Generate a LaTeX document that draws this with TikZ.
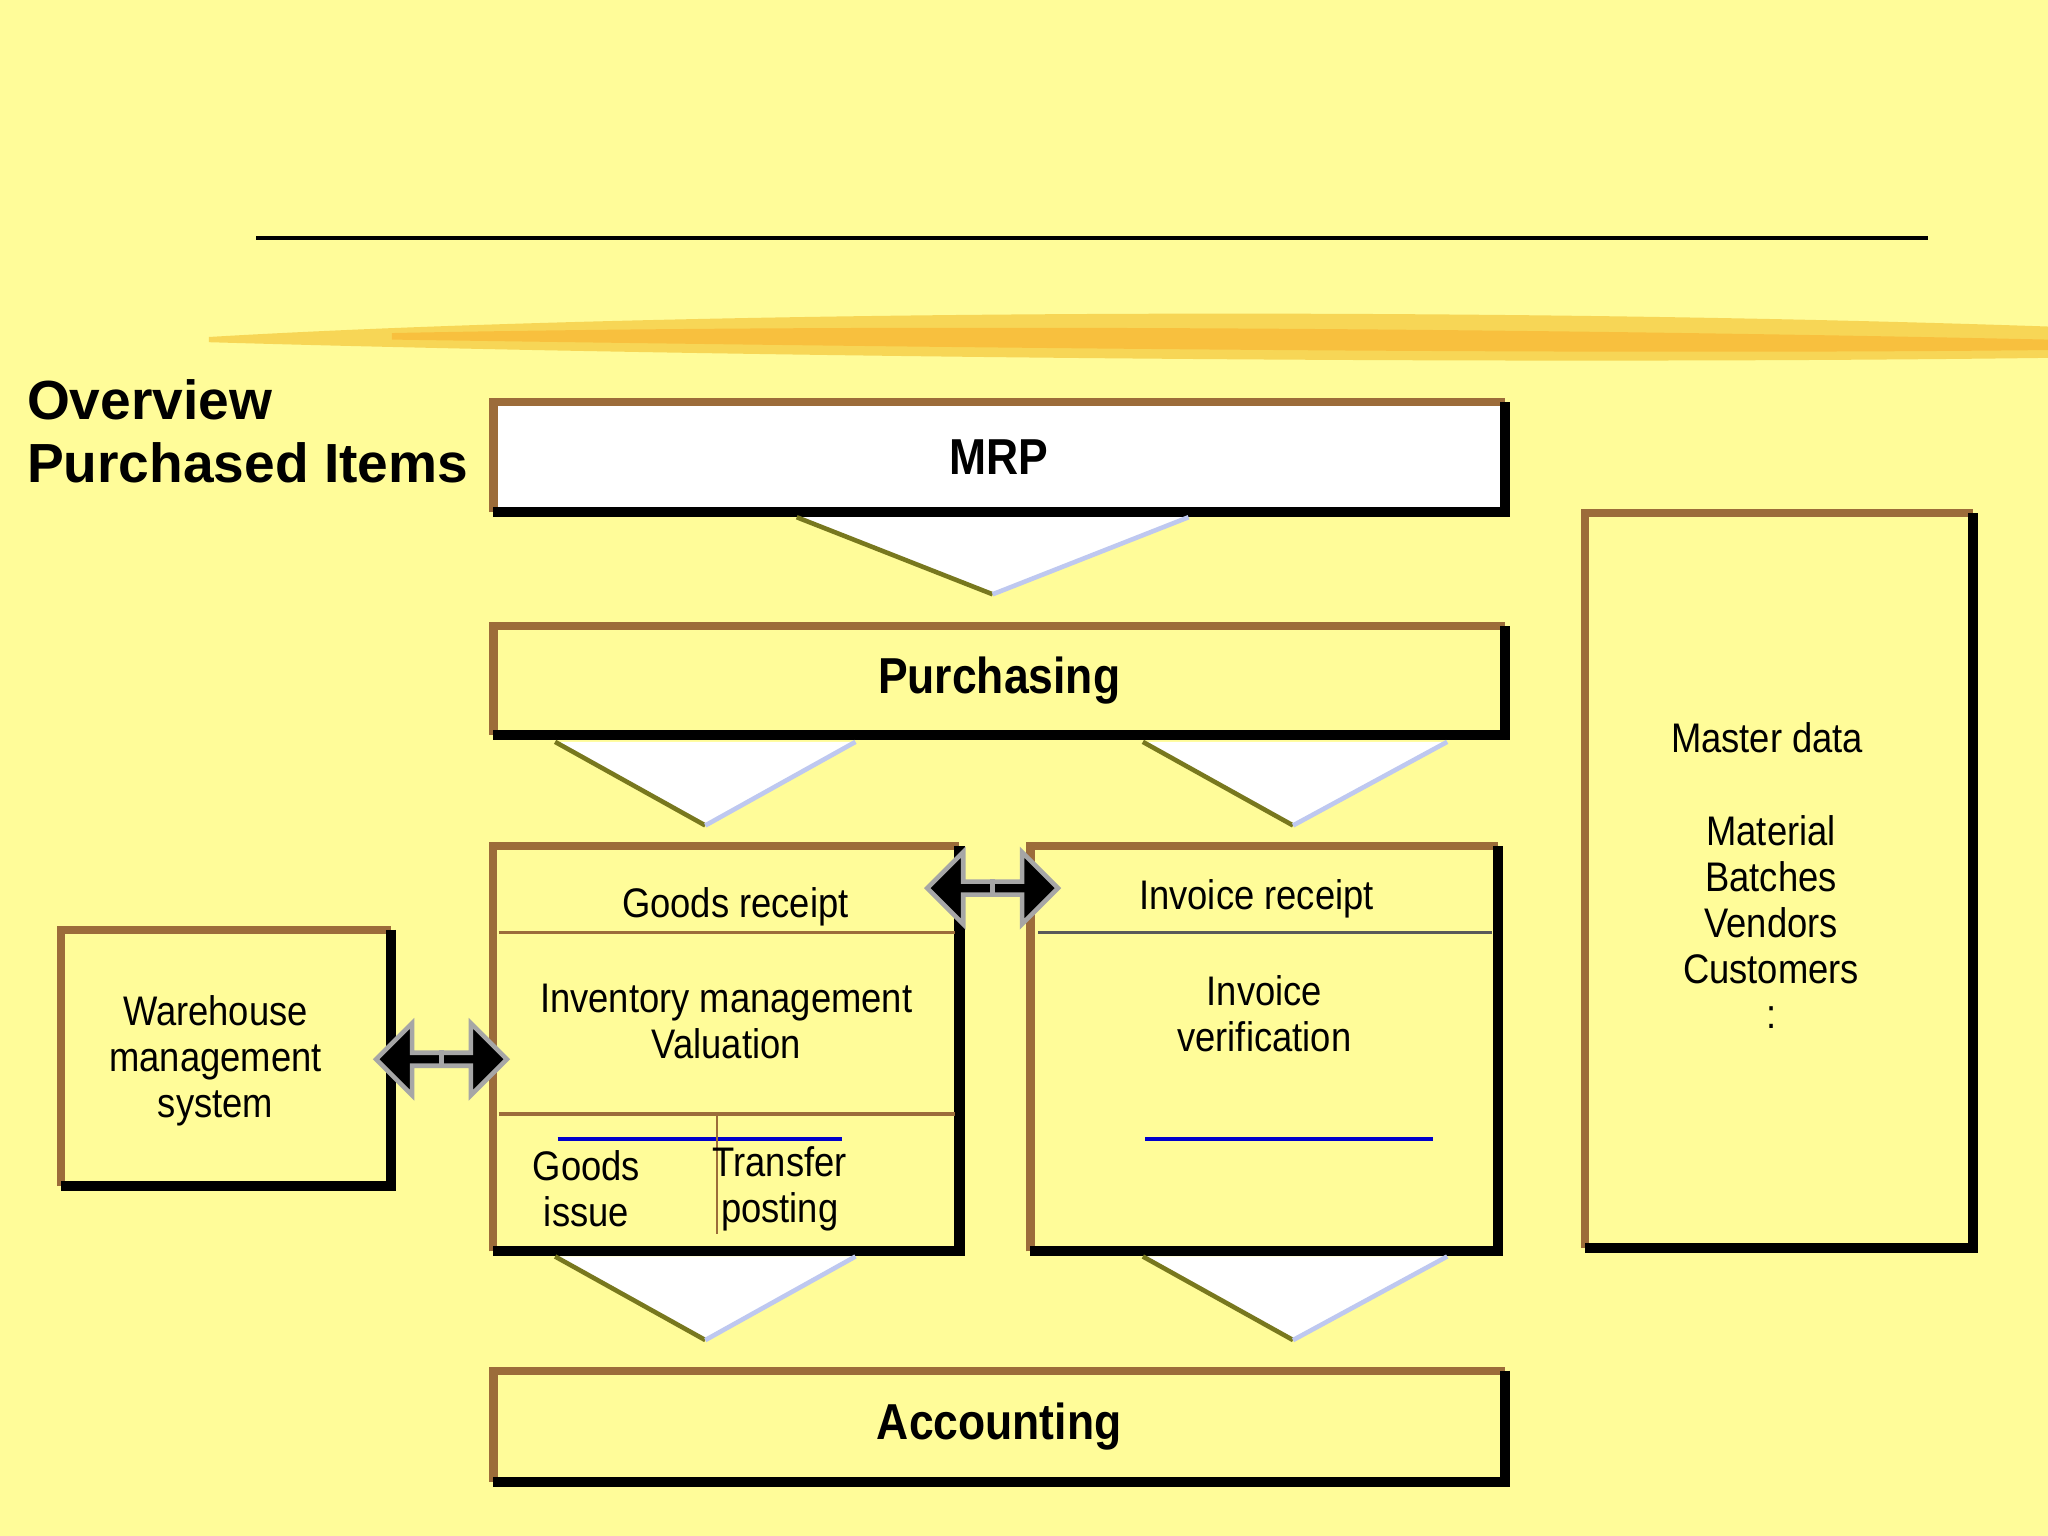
\documentclass[tikz,border=0pt]{standalone}
\usepackage{fontspec}
\setmainfont{Liberation Sans}[FakeStretch=0.88]
\newfontfamily\ttlfont{Liberation Sans}
\usetikzlibrary{positioning, shapes.arrows}
\definecolor{bgyel}{RGB}{255,252,153}
\definecolor{brn}{RGB}{156,108,58}
\definecolor{brush}{RGB}{245,205,70}
\definecolor{olv}{RGB}{120,120,30}
\definecolor{lblue}{RGB}{190,200,240}

\tikzset{
  box/.style={minimum width=#1, inner sep=0pt, outer sep=0pt},
  txt/.style={font=\fontsize{9}{10}\selectfont, align=center},
  head/.style={font=\bfseries\fontsize{11}{13}\selectfont},
  dbl/.style={double arrow, fill=black, draw=gray!70, line width=1pt,
    minimum height=1cm, minimum width=0.55cm, double arrow head extend=0.08cm, inner sep=0pt}
}
% frame: brown top/left, black right/bottom
\newcommand{\frm}[1]{%
  \draw[brn, line width=1.8pt] (#1.south west) -- (#1.north west) -- (#1.north east);
  \draw[black, line width=2.2pt] (#1.north east) -- (#1.south east) -- (#1.south west);}
% funnel between boxes
\newcommand{\fun}[3]{%
  \fill[white] (#1) -- (#2) -- (#3) -- cycle;
  \draw[olv, line width=1pt] (#1) -- (#3);
  \draw[lblue, line width=1pt] (#3) -- (#2);}

\begin{document}
\begin{tikzpicture}[x=0.01cm, y=-0.01cm]
  \fill[bgyel] (0,0) rectangle (1568,1176);
  \useasboundingbox (0,0) rectangle (1568,1176);

  \draw[line width=0.8pt] (196,182) -- (1476,182);
  \fill[brush, opacity=0.8] (160,258) .. controls (500,238) and (1100,234) .. (1568,250)
     -- (1568,274) .. controls (1100,280) and (500,272) .. (160,262) -- cycle;
  \fill[orange!60!brush, opacity=0.4] (300,255) .. controls (700,247) and (1200,252) .. (1568,260)
     -- (1568,268) .. controls (1200,272) and (700,266) .. (300,260) -- cycle;

  \node[anchor=north west, align=left, inner sep=0pt, font=\ttlfont\bfseries\fontsize{12}{13.6}\selectfont] (title) at (20,290)
    {Overview\\Purchased Items};

  % main boxes
  \node[box=7.74cm, fill=white, minimum height=0.84cm, head] (mrp) at (765,350) {MRP};
  \node[box=7.74cm, fill=bgyel, minimum height=0.83cm, head] (purch) at (765,521) {Purchasing};
  \node[box=7.74cm, fill=bgyel, minimum height=0.85cm, head] (acc) at (765,1092) {Accounting};
  \node[box=3.57cm, fill=bgyel, minimum height=3.1cm] (gr) at (556,803) {};
  \node[box=3.58cm, fill=bgyel, minimum height=3.1cm] (inv) at (968,803) {};
  \node[box=2.53cm, fill=bgyel, minimum height=1.96cm] (wms) at (173,810) {};
  \node[box=2.97cm, fill=bgyel, minimum height=5.62cm] (mst) at (1362,674) {};
  \frm{mrp} \frm{purch} \frm{acc} \frm{gr} \frm{inv} \frm{wms} \frm{mst}

  % funnels
  \coordinate (f1a) at (610,396); \coordinate (f1b) at (910,396); \coordinate (f1c) at (760,455);
  \fun{f1a}{f1b}{f1c}
  \coordinate (f2a) at (425,568); \coordinate (f2b) at (655,568); \coordinate (f2c) at (540,632);
  \fun{f2a}{f2b}{f2c}
  \coordinate (f3a) at (875,568); \coordinate (f3b) at (1108,568); \coordinate (f3c) at (990,632);
  \fun{f3a}{f3b}{f3c}
  \coordinate (f4a) at (425,962); \coordinate (f4b) at (655,962); \coordinate (f4c) at (540,1026);
  \fun{f4a}{f4b}{f4c}
  \coordinate (f5a) at (875,962); \coordinate (f5b) at (1108,962); \coordinate (f5c) at (990,1026);
  \fun{f5a}{f5b}{f5c}

  % goods receipt box
  \node[txt] (grt) at (563,694) {Goods receipt};
  \draw[brn, line width=0.8pt] (382,714) -- (731,714);
  \node[txt] (invm) at (556,782) {Inventory management\\Valuation};
  \draw[brn, line width=0.8pt] (382,853) -- (731,853);
  \draw[blue!80!black, line width=0.8pt] (427,872) -- (645,872);
  \draw[brn, line width=0.6pt] (549,853) -- (549,945);
  \node[txt] (gi) at (449,910) {Goods\\issue};
  \node[txt] (tp) at (597,910) {Transfer\\posting};

  % invoice box
  \node[txt] (irt) at (962,688) {Invoice receipt};
  \draw[gray!70!black, line width=0.8pt] (795,714) -- (1142,714);
  \node[txt] (iv) at (968,776) {Invoice\\verification};
  \draw[blue!80!black, line width=0.8pt] (877,872) -- (1097,872);

  \node[txt] (wmt) at (165,812) {Warehouse\\management\\system};
  \node[txt] (mdt) at (1353,565) {Master data};
  \node[txt, align=center] (mdl) at (1356,706) {Material\\Batches\\Vendors\\Customers\\:};

  % double arrows
  \node[dbl] (a1) at (338,811) {};
  \node[dbl] (a2) at (760,680) {};
  \draw[gray!70, line width=1pt] (a1.north) -- (a1.south);
  \draw[gray!70, line width=1pt] (a2.north) -- (a2.south);
\end{tikzpicture}
\end{document}
